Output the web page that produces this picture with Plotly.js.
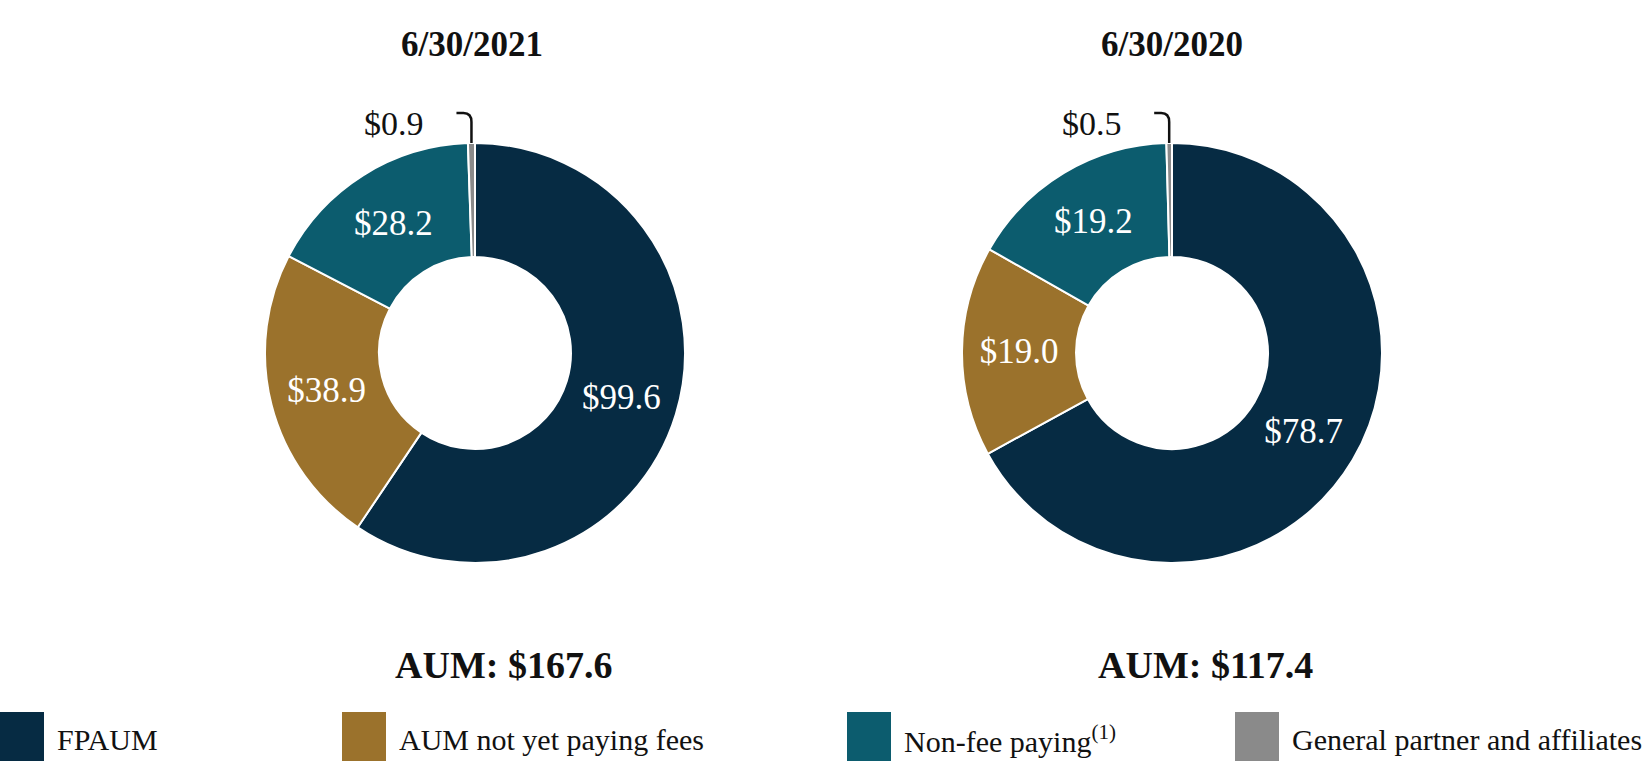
<!DOCTYPE html>
<html><head><meta charset="utf-8">
<script src="https://cdn.plot.ly/plotly-3.0.1.min.js"></script>
<style>html,body{margin:0;padding:0;background:#fff;}</style>
</head><body><div id="chart" style="width:1650px;height:761px;"></div>
<script>
const categories = ["FPAUM", "AUM not yet paying fees", "Non-fee paying<sup>(1)</sup>", "General partner and affiliates"];
const colors = ["#062b43", "#9b722c", "#0c5c6e", "#8a8a8a"];
const values2021 = [99.6, 38.9, 28.2, 0.9];
const values2020 = [78.7, 19.0, 19.2, 0.5];
const dateTitles = ["6/30/2021", "6/30/2020"];
const totals = [167.6, 117.4];

const W = 1650, H = 761;
const px = x => x / W, py = y => 1 - y / H;
const serif = "Liberation Serif, Times New Roman, serif";

// pie geometry (pixels)
const pies = [
  {cx: 475, cy: 353, r: 210, vals: values2021, title: dateTitles[0], titleX: 472, total: totals[0], totX: 503},
  {cx: 1172, cy: 353, r: 210, vals: values2020, title: dateTitles[1], titleX: 1172, total: totals[1], totX: 1205}
];

const traces = [], annotations = [], shapes = [];
pies.forEach((p, i) => {
  const sum = p.vals.reduce((a, b) => a + b, 0);
  traces.push({
    type: "pie",
    values: p.vals,
    labels: categories,
    text: p.vals.map(v => "$" + v.toFixed(1)),
    textinfo: "text",
    textposition: p.vals.map((v, k) => k < 3 ? "inside" : "none"),
    insidetextorientation: "horizontal",
    insidetextfont: {family: serif, size: 35, color: "#ffffff"},
    marker: {colors: colors, line: {color: "#ffffff", width: 2}},
    hole: 0.457,
    sort: false,
    direction: "clockwise",
    rotation: 0,
    showlegend: false,
    hoverinfo: "label+value",
    domain: {x: [px(p.cx - 250), px(p.cx + 250)], y: [py(p.cy + p.r), py(p.cy - p.r)]}
  });
  // date title
  annotations.push({text: "<b>" + p.title + "</b>", x: px(p.titleX), y: py(44), xref: "paper", yref: "paper",
    xanchor: "center", yanchor: "middle", showarrow: false, font: {family: serif, size: 35, color: "#111"}});
  // total
  annotations.push({text: "<b>AUM: $" + p.total.toFixed(1) + "</b>", x: px(p.totX), y: py(665), xref: "paper", yref: "paper",
    xanchor: "center", yanchor: "middle", showarrow: false, font: {family: serif, size: 38, color: "#111"}});
  // small slice label with bracket leader
  const gp = p.vals[3];
  const ang = (1 - gp / (2 * sum)) * 2 * Math.PI;
  const ax = p.cx + p.r * Math.sin(ang), ay = p.cy - p.r * Math.cos(ang);
  const topY = ay - 30;
  shapes.push({type: "path", xref: "paper", yref: "paper", line: {color: "#111", width: 2.5},
    path: `M ${px(ax)} ${py(ay)} L ${px(ax)} ${py(topY + 9)} Q ${px(ax)} ${py(topY)} ${px(ax - 8)} ${py(topY)} L ${px(ax - 15)} ${py(topY)}`});
  annotations.push({text: "$" + gp.toFixed(1), x: px(ax - 77), y: py(123), xref: "paper", yref: "paper",
    xanchor: "center", yanchor: "middle", showarrow: false, font: {family: serif, size: 34, color: "#111"}});
});

// custom legend
const legX = [0, 342, 847, 1235];
categories.forEach((c, k) => {
  shapes.push({type: "rect", xref: "paper", yref: "paper", x0: px(legX[k]), x1: px(legX[k] + 44),
    y0: py(761), y1: py(712), fillcolor: colors[k], line: {width: 0}});
  annotations.push({text: c, x: px(legX[k] + 55), y: py(739), xref: "paper", yref: "paper",
    xanchor: "left", yanchor: "middle", showarrow: false, font: {family: serif, size: 30, color: "#111"}});
});

Plotly.newPlot("chart", traces, {
  width: W, height: H,
  margin: {l: 0, r: 0, t: 0, b: 0},
  paper_bgcolor: "#ffffff",
  annotations: annotations,
  shapes: shapes
}, {displayModeBar: false, staticPlot: true});
</script></body></html>
